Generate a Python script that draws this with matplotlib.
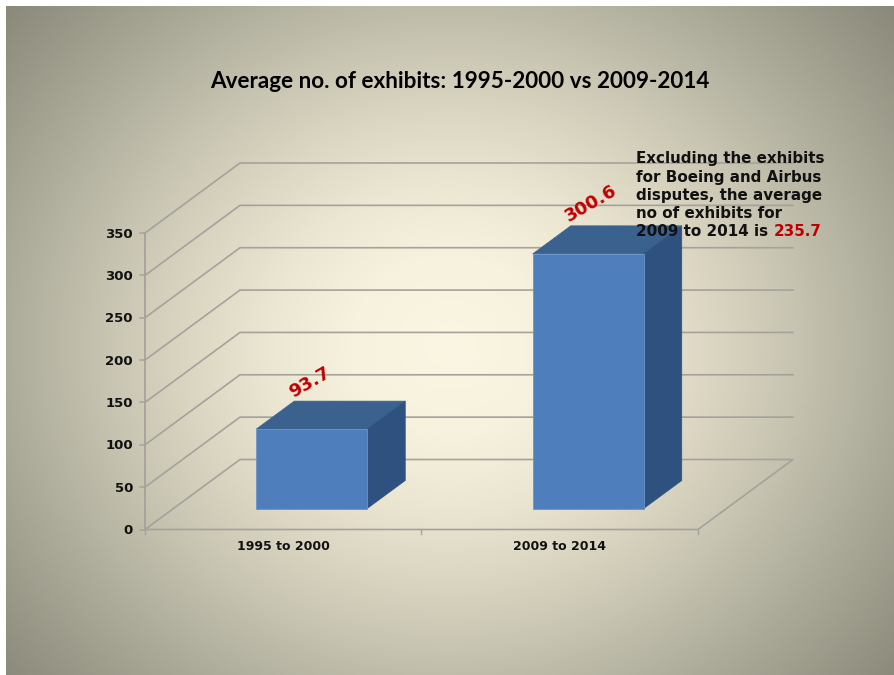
import numpy as np
import matplotlib
matplotlib.use("Agg")
import matplotlib.pyplot as plt
from matplotlib.colors import LinearSegmentedColormap
from matplotlib.patches import Polygon

categories = ["1995 to 2000", "2009 to 2014"]
values = [93.7, 300.6]
y_ticks = [0, 50, 100, 150, 200, 250, 300, 350]
title = "Average no. of exhibits: 1995-2000 vs 2009-2014"
note_lines = ["Excluding the exhibits", "for Boeing and Airbus",
              "disputes, the average", "no of exhibits for"]
note_last = "2009 to 2014 is "
note_value = "235.7"

# chart frame, in pixels of the 895x675 slide
x0, x1 = 145, 698
y0, ytop = 529.5, 233
dx, dy = 95, -70
y_scale = (y0 - ytop) / 350
bar_w = 111
bar_depth = (0.30, 0.70)
label_shift = [(-2, -47), (3, -50)]

GRID = "#a5a29c"
FRONT = "#4f7ebc"
TOP = "#3b618f"
SIDE = "#2f5180"
RED = "#c00000"


def pt(cat, val, depth=0.0):
    # cat in category units, val in data units, depth 0 front .. 1 back
    return (x0 + cat * (x1 - x0) / len(categories) + depth * dx,
            y0 - val * y_scale + depth * dy)


fig = plt.figure(figsize=(8.95, 6.75), dpi=100, facecolor="white")
ax = fig.add_axes([0, 0, 1, 1])
ax.axis("off")

# slide background
stops = [(0, "#fbf6e3"), (100, "#f7f2dd"), (180, "#ece7d3"), (260, "#dcd7c3"),
         (350, "#c6c3b0"), (440, "#aeac9b"), (590, "#8a8878")]
cmap = LinearSegmentedColormap.from_list("bg", [(d / 590, c) for d, c in stops])
xx, yy = np.meshgrid(np.linspace(6, 895, 400), np.linspace(6, 675, 400))
r = np.hypot(xx - 450, (yy - 345) * 1.13)
ax.imshow(np.clip(r / 590, 0, 1), cmap=cmap, vmin=0, vmax=1, extent=(6, 895, 675, 6),
          aspect="auto", zorder=0)
ax.set_xlim(0, 895)
ax.set_ylim(675, 0)

# walls and floor
for v in y_ticks:
    xs, ys = zip(pt(0, v), pt(0, v, 1), pt(len(categories), v, 1))
    if v == 0:
        xs, ys = zip(pt(0, 0), pt(0, 0, 1), pt(2, 0, 1), pt(2, 0), pt(0, 0))
    ax.plot(xs, ys, color=GRID, lw=1.2, zorder=1)
    a, b = pt(0, v)
    ax.plot([a - 5, a], [b, b], color=GRID, lw=1.1, zorder=1)
    ax.text(a - 12, b + 1, str(v), ha="right", va="center", fontsize=9.5,
            fontweight="bold", color="#111111", zorder=5)
xs, ys = zip(pt(0, 0), pt(0, 350))
ax.plot(xs, ys, color=GRID, lw=1.3, zorder=1)
for c in range(len(categories) + 1):
    a, b = pt(c, 0)
    ax.plot([a, a], [b, b + 4], color=GRID, lw=1.0, zorder=1)

# bars
for i, (cat, val) in enumerate(zip(categories, values)):
    half = bar_w / 2 / ((x1 - x0) / len(categories))
    c = i + 0.5
    d0, d1 = bar_depth
    fl, fr = c - half, c + half
    ax.add_patch(Polygon([pt(fl, val, d0), pt(fl, val, d1), pt(fr, val, d1), pt(fr, val, d0)],
                         fc=TOP, ec=TOP, lw=0.5, zorder=3))
    ax.add_patch(Polygon([pt(fr, 0, d0), pt(fr, val, d0), pt(fr, val, d1), pt(fr, 0, d1)],
                         fc=SIDE, ec=SIDE, lw=0.5, zorder=3))
    ax.add_patch(Polygon([pt(fl, 0, d0), pt(fl, val, d0), pt(fr, val, d0), pt(fr, 0, d0)],
                         fc=FRONT, ec="#6a94c8", lw=0.6, zorder=3))
    lx, ly = pt(c, val, d0)
    ax.text(lx + label_shift[i][0], ly + label_shift[i][1], f"{val}", rotation=30,
            rotation_mode="anchor", ha="center", va="center", fontsize=13,
            fontweight="bold", color=RED, zorder=6)
    tx, ty = pt(c, 0)
    ax.text(tx, ty + 17, cat, ha="center", va="center", fontsize=9,
            fontweight="bold", color="#111111", zorder=5)

ax.text(460, 81, title, ha="center", va="center", fontsize=16.2, fontweight="bold",
        family="Lato", color="black", zorder=6)

# text box over the chart
for n, line in enumerate(note_lines):
    ax.text(636, 159 + n * 18.2, line, ha="left", va="center", fontsize=10.9,
            fontweight="bold", color="#111111", zorder=6)
last = ax.text(636, 159 + 4 * 18.2, note_last, ha="left", va="center", fontsize=10.9,
               fontweight="bold", color="#111111", zorder=6)
ax.annotate(note_value, xy=(1, 0.5), xycoords=last, xytext=(0, 0), textcoords="offset points",
            ha="left", va="center", fontsize=10.9, fontweight="bold", color=RED, zorder=6)

fig.savefig("out.png", dpi=100)
